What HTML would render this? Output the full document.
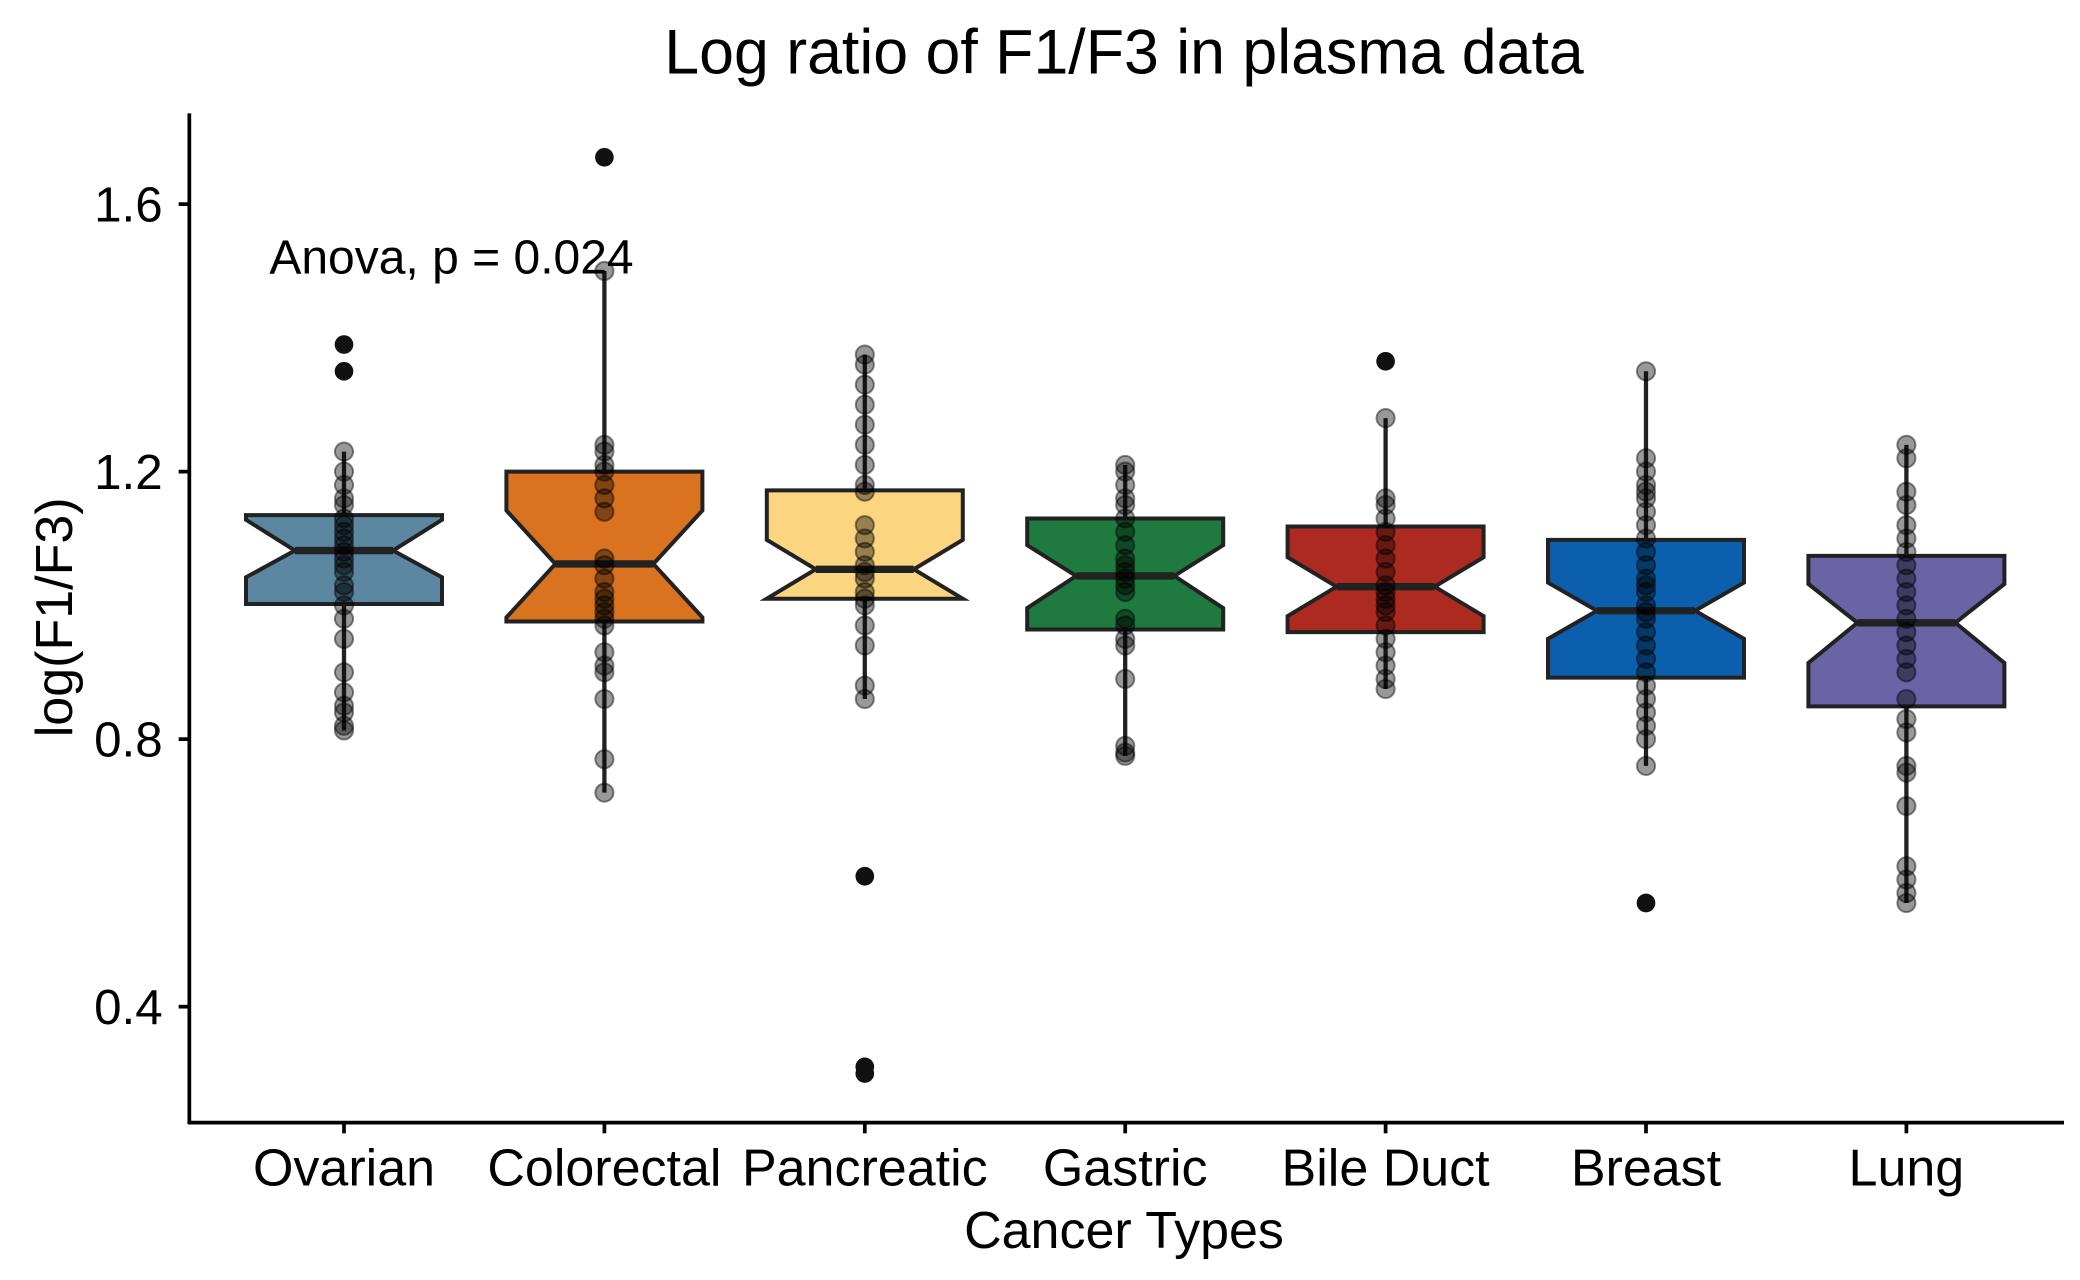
<!DOCTYPE html>
<html><head><meta charset="utf-8"><style>
html,body{margin:0;padding:0;background:#fff;}
svg{display:block;}
text{font-family:"Liberation Sans",Arial,sans-serif;fill:#000;}
</style></head><body>
<svg id="chart" width="2080" height="1280" viewBox="0 0 1560 960" xmlns="http://www.w3.org/2000/svg">
<text x="843" y="55" font-size="47" text-anchor="middle">Log ratio of F1/F3 in plasma data</text>
<g id="plot"></g>
<line x1="142" y1="85" x2="142" y2="843" stroke="#000" stroke-width="2.8"/>
<line x1="141" y1="842" x2="1548" y2="842" stroke="#000" stroke-width="2.8"/>
<text transform="translate(54,463) rotate(-90)" font-size="39" text-anchor="middle">log(F1/F3)</text>
<text x="843" y="936" font-size="39" text-anchor="middle">Cancer Types</text>
<text x="202" y="205" font-size="36" text-anchor="start">Anova, p = 0.024</text>
</svg>
<script>
const categories = ["Ovarian","Colorectal","Pancreatic","Gastric","Bile Duct","Breast","Lung"];
const colors = ["#5b87a0","#d9731f","#fcd581","#1f7a3f","#ad2a20","#0b5fad","#6a63a6"];
const q1 = [1.002,0.976,1.010,0.964,0.960,0.892,0.849];
const medians = [1.082,1.062,1.054,1.044,1.028,0.992,0.974];
const q3 = [1.135,1.200,1.172,1.130,1.118,1.098,1.074];
const notchLo = [1.042,0.982,1.010,0.996,0.984,0.950,0.914];
const notchHi = [1.128,1.142,1.098,1.090,1.072,1.034,1.032];
const whiskLo = [0.813,0.720,0.860,0.775,0.875,0.760,0.555];
const whiskHi = [1.230,1.500,1.375,1.210,1.280,1.350,1.240];
const outliers = [[1.39,1.35],[1.67],[0.595,0.31,0.30],[],[1.365],[0.555],[]];
const points = [
 [1.23,1.20,1.18,1.16,1.15,1.13,1.12,1.11,1.10,1.09,1.08,1.07,1.06,1.05,1.03,1.02,1.00,0.98,0.95,0.90,0.87,0.85,0.84,0.82,0.813],
 [1.50,1.24,1.23,1.21,1.20,1.18,1.16,1.14,1.07,1.06,1.04,1.02,1.01,1.00,0.99,0.98,0.97,0.93,0.91,0.90,0.86,0.77,0.72],
 [1.375,1.36,1.33,1.30,1.27,1.24,1.21,1.18,1.17,1.12,1.10,1.08,1.06,1.05,1.04,1.02,1.01,1.00,0.97,0.94,0.88,0.86],
 [1.21,1.20,1.18,1.16,1.15,1.13,1.11,1.09,1.07,1.06,1.05,1.04,1.03,1.02,0.98,0.97,0.95,0.94,0.89,0.79,0.78,0.775],
 [1.28,1.16,1.15,1.13,1.11,1.09,1.07,1.05,1.03,1.02,1.01,1.00,0.99,0.97,0.95,0.93,0.91,0.89,0.875],
 [1.35,1.22,1.20,1.18,1.17,1.16,1.14,1.12,1.10,1.08,1.06,1.04,1.03,1.02,1.00,0.99,0.98,0.96,0.94,0.92,0.90,0.88,0.86,0.84,0.82,0.80,0.76],
 [1.24,1.22,1.17,1.15,1.12,1.10,1.08,1.06,1.04,1.02,1.00,0.98,0.96,0.94,0.92,0.90,0.86,0.83,0.81,0.76,0.75,0.70,0.61,0.59,0.57,0.555]
];
const yTicks = [0.4,0.8,1.2,1.6];

const NS="http://www.w3.org/2000/svg";
const plot=document.getElementById('plot');
function y(v){return 755-(v-0.4)*501.6;}
function x(i){return 258+i*195.3;}
const HW=73.5;
function mk(tag,attrs){const e=document.createElementNS(NS,tag);for(const k in attrs)e.setAttribute(k,attrs[k]);return e;}

yTicks.forEach(t=>{
 const l=mk('line',{x1:134,x2:142,y1:y(t),y2:y(t),stroke:'#000','stroke-width':2.8});
 
 
 plot.appendChild(l);
 const tx=mk('text',{x:122,y:y(t)+13,'font-size':37,'text-anchor':'end'});
 
 
 tx.textContent=t.toFixed(1);
 plot.appendChild(tx);
});

categories.forEach((c,i)=>{
 const cx=x(i);
 const g=mk('g',{});
 
 
 const w=mk('line',{x1:cx,x2:cx,y1:y(whiskHi[i]),y2:y(whiskLo[i]),stroke:'#222','stroke-width':3.2});
 
 
 g.appendChild(w);
 const L=cx-HW,R=cx+HW,hl=cx-HW/2,hr=cx+HW/2;
 const d=`M${L},${y(q3[i])} L${R},${y(q3[i])} L${R},${y(notchHi[i])} L${hr},${y(medians[i])} L${R},${y(notchLo[i])} L${R},${y(q1[i])} L${L},${y(q1[i])} L${L},${y(notchLo[i])} L${hl},${y(medians[i])} L${L},${y(notchHi[i])} Z`;
 const p=mk('path',{d:d,fill:colors[i],stroke:'#222','stroke-width':3,'stroke-linejoin':'miter'});
 
 
 g.appendChild(p);
 const m=mk('line',{x1:hl,x2:hr,y1:y(medians[i]),y2:y(medians[i]),stroke:'#222','stroke-width':5.5});
 
 
 g.appendChild(m);
 points[i].forEach(v=>{
  const pt=mk('circle',{cx:cx,cy:y(v),r:6.8,fill:'rgba(0,0,0,0.4)',stroke:'rgba(0,0,0,0.45)','stroke-width':1.5});
  
  
  g.appendChild(pt);
 });
 outliers[i].forEach(v=>{
  const o=mk('circle',{cx:cx,cy:y(v),r:7,fill:'#111'});
  
  
  g.appendChild(o);
 });
 plot.appendChild(g);
 const t=mk('line',{x1:cx,x2:cx,y1:842,y2:850,stroke:'#000','stroke-width':2.8});
 
 
 plot.appendChild(t);
 const tl=mk('text',{x:cx,y:889,'font-size':39,'text-anchor':'middle'});
 
 
 tl.textContent=c;
 plot.appendChild(tl);
});
</script>
</body></html>
